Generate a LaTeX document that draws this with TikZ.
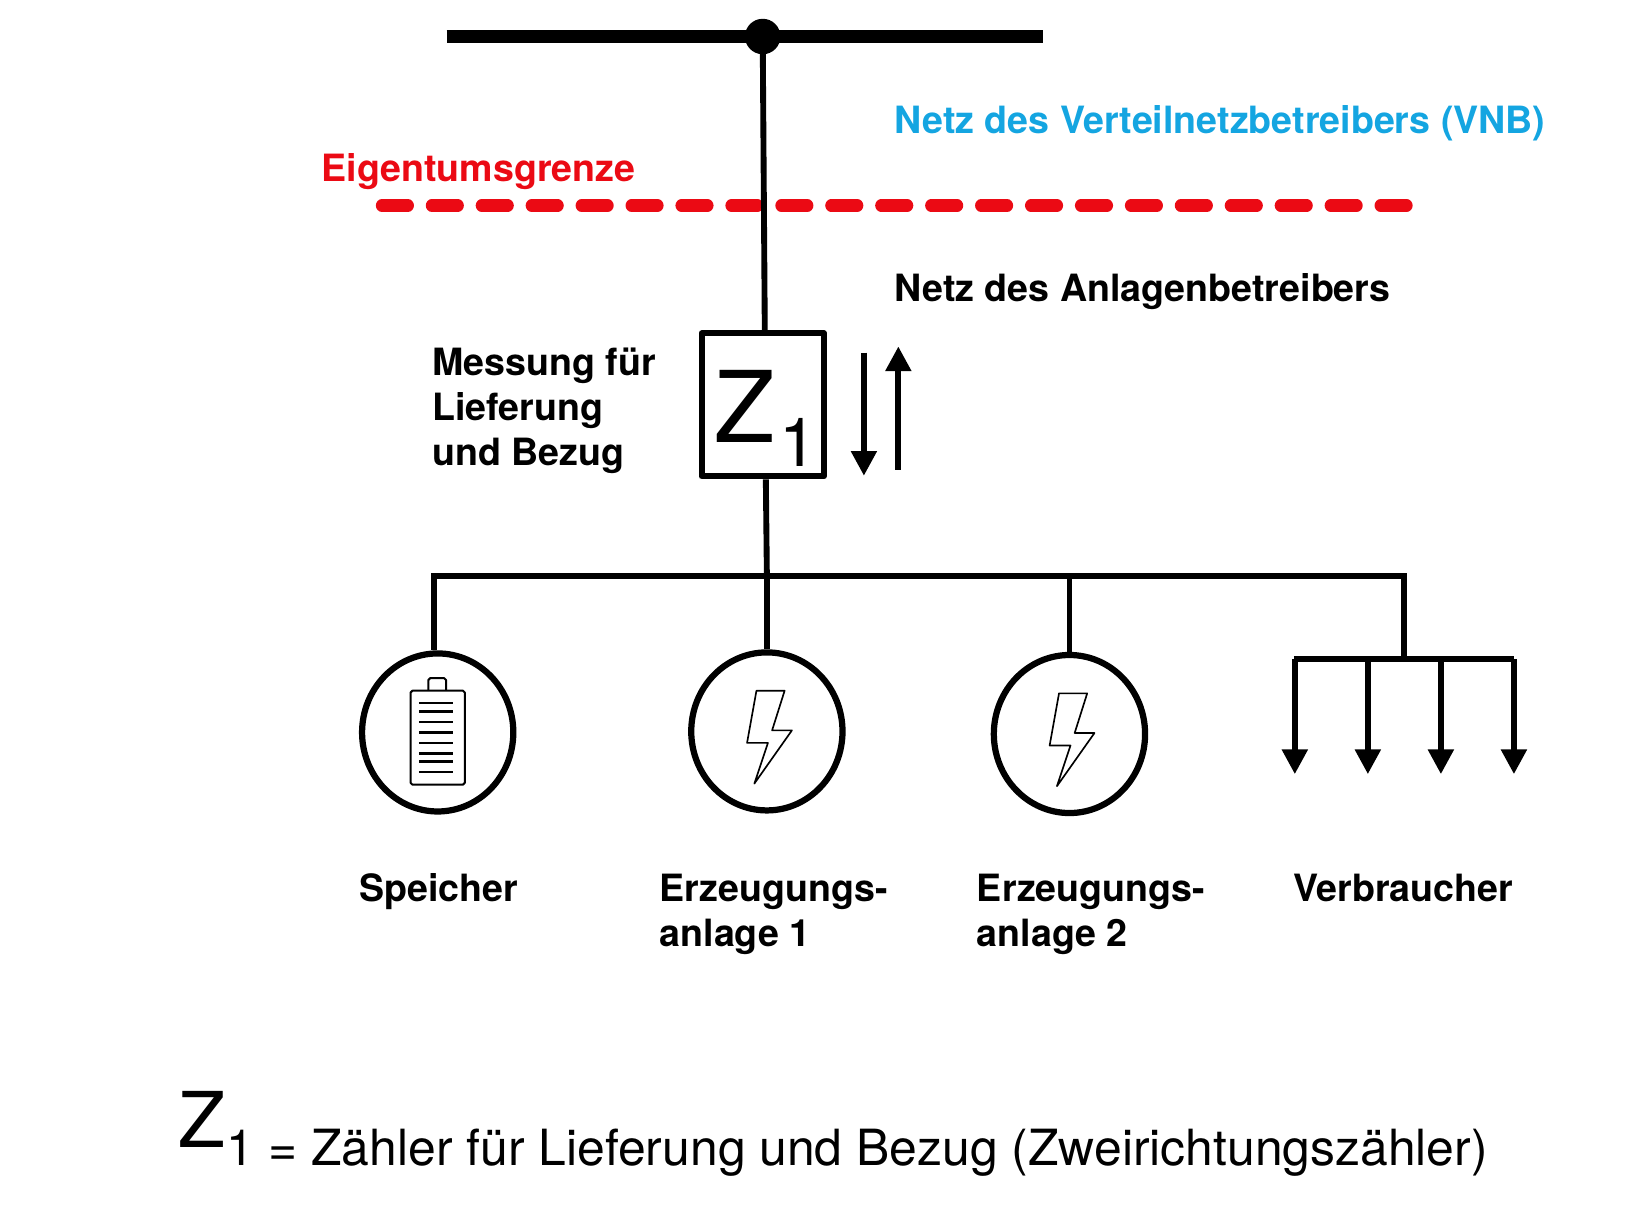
\documentclass[tikz,border=0pt]{standalone}
\usepackage{fontspec}
\setmainfont{TeX Gyre Heros}
\usetikzlibrary{arrows.meta,shapes.geometric}
\definecolor{netzblau}{RGB}{20,165,225}
\definecolor{grenzrot}{RGB}{235,10,20}
\tikzset{
  leitung/.style={line width=3.2pt},
  label/.style={inner sep=0pt, anchor=base west, font=\fontsize{20.5}{24.4}\selectfont\bfseries},
  anlage/.style={ellipse, draw, line width=3.4pt, minimum width=2.9cm, minimum height=3.03cm, inner sep=0pt},
  pfeil/.style={-{Triangle[width=13.5pt,length=13.5pt]}, line width=3.2pt},
  symbol/.style={line width=0.9pt, line join=round},
}
\begin{document}
\begin{tikzpicture}[x=0.02cm, y=-0.02cm, line join=round]
\useasboundingbox (0,0) rectangle (1568,1176);
\path
(428,35) coordinate (BL)
(1000,35) coordinate (BR)
(731,35) coordinate (T)
(366,197) coordinate (GL)
(1351,197) coordinate (GR)
(416,552) coordinate (SL)
(1346,552) coordinate (SR)
(735,552) coordinate (S2)
(1025,552) coordinate (S3)
(1346,632) coordinate (V)
(1240,632) coordinate (VL)
(1451,632) coordinate (VR)
;
% Sammelschiene oben
\draw[line width=6.8pt] (BL)--(BR);
\fill (T) circle (17);
% Eigentumsgrenze
\draw[grenzrot, line width=6.6pt, line cap=round, dash pattern=on 14.2pt off 13.04pt] (GL)--(GR);
% Zaehler
\node[draw, line width=3.4pt, minimum width=2.34cm, minimum height=2.74cm, inner sep=0pt] (Z) at (731,388) {};
\node[inner sep=0pt, anchor=base west, font=\fontsize{54}{54}\selectfont] (Zz) at (684,424) {Z};
\node[inner sep=0pt, anchor=base west, font=\fontsize{37}{37}\selectfont] (Ze) at (747,447) {1};
\draw[leitung] (T)--([xshift=0.04cm]Z.north);
\draw[leitung] ([xshift=0.06cm]Z.south)--(S2);
\coordinate (PA) at (828,338);
\coordinate (PB) at (828,456);
\coordinate (PC) at (861,450);
\coordinate (PD) at (861,332);
\draw[pfeil] (PA)--(PB);
\draw[pfeil] (PC)--(PD);
% Abgaenge
\node[anlage] (speicher) at (419.5,702) {};
\node[anlage] (erz1) at (735,701) {};
\node[anlage] (erz2) at (1025,703.5) {};
\draw[leitung, line cap=rect] (SL)--(SR);
\draw[leitung] (SL)--(SL|-speicher.north);
\draw[leitung] (S2)--(erz1.north);
\draw[leitung] (S3)--(erz2.north);
\draw[leitung] (SR)--(V);
% Verbraucher
\draw[leitung] (VL)--(VR);
\foreach \x in {1241,1311,1381,1451}
  \draw[pfeil] (\x,632)--(\x,742);
% Batterie
\begin{scope}[shift={(speicher.center)}, symbol]
  \draw[rounded corners=1pt, line width=1.1pt] (-26,-40) rectangle (26,50);
  \draw[rounded corners=1pt, line width=1.1pt] (-9,-40)--(-9,-52)--(8,-52)--(8,-40);
  \foreach \y in {-28,-20,-10,0,10,20,28,38}
    \draw[line width=1.3pt] (-18,\y)--(15,\y);
\end{scope}
% Blitze
\foreach \p in {erz1,erz2}
  \draw[symbol, shift={(\p.center)}] (-10,-39)--(17,-39)--(5,-1)--(24,-1)--(-12,50)--(1,11)--(-19,11)--cycle;
% Texte
\node[label, text=netzblau] (vnb) at (857,128) {Netz des Verteilnetzbetreibers (VNB)};
\node[label, text=grenzrot] (grenze) at (308,174) {Eigentumsgrenze};
\node[label] (anl) at (857,289) {Netz des Anlagenbetreibers};
\node[label] (mess1) at (414,360) {Messung für};
\node[label] (mess2) at (414,403) {Lieferung};
\node[label] (mess3) at (414,446) {und Bezug};
\node[label] (sp) at (344,864) {Speicher};
\node[label] (e1a) at (632,864) {Erzeugungs-};
\node[label] (e1b) at (632,907) {anlage 1};
\node[label] (e2a) at (936,864) {Erzeugungs-};
\node[label] (e2b) at (936,907) {anlage 2};
\node[label] (vb) at (1239,864) {Verbraucher};
% Legende
\node[inner sep=0pt, anchor=base west, font=\fontsize{42}{42}\selectfont] (lz) at (171,1100) {Z};
\node[inner sep=0pt, anchor=base west, font=\fontsize{27.2}{27.2}\selectfont] (lt) at (217,1117) {1 = Zähler für Lieferung und Bezug (Zweirichtungszähler)};
\end{tikzpicture}
\end{document}
